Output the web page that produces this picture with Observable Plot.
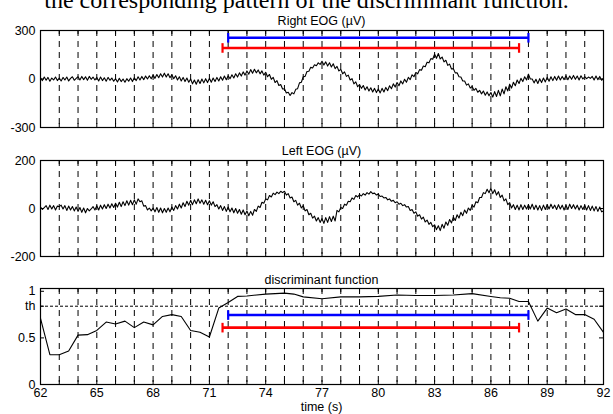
<!DOCTYPE html>
<html><head><meta charset="utf-8">
<script src="https://cdn.jsdelivr.net/npm/d3@7"></script>
<script src="https://cdn.jsdelivr.net/npm/@observablehq/plot@0.6"></script>
<style>
body{margin:0;background:#fff;}
#wrap{position:relative;width:613px;height:414px;overflow:hidden;font-family:"Liberation Sans",Arial,sans-serif;background:#fff;}
.ttl{position:absolute;left:40px;width:563px;text-align:center;font-size:12.5px;line-height:14px;white-space:nowrap;}
.head{position:absolute;left:0;width:613px;top:-12px;text-align:center;font-family:"Liberation Serif","Times New Roman",serif;font-size:24px;line-height:24px;white-space:nowrap;}
.svgbox{position:absolute;left:0;}
</style></head><body><div id="wrap"></div>
<script>
// ---------- data ----------
const t0 = 62, dt = 0.1;               // sampling of the EOG traces (s)
const rightEOG = [
 8,-10,12,-8,10,-14,6,-6,12,-10,
 6,-12,10,-6,12,-12,4,14,-8,4,
 14,-6,16,-4,14,-8,16,-2,12,-6,
 10,-12,12,-10,8,-14,10,-8,6,-14,
 2,-18,4,-16,0,-20,2,-14,6,-16,
 8,-10,14,-6,16,-4,18,0,20,2,
 24,4,28,8,32,12,36,12,32,8,
 26,2,20,-6,14,-12,10,-16,6,-20,
 0,-30,-6,-32,-4,-28,0,-24,2,-22,
 4,-20,6,-16,10,-12,14,-8,18,-4,
 20,2,26,6,32,12,38,18,44,24,
 50,30,58,36,60,38,56,32,50,24,
 42,14,28,-2,10,-22,-10,-40,-34,-62,
 -60,-86,-82,-102,-84,-92,-64,-60,-24,-20,
 14,16,46,48,72,68,88,82,100,90,
 110,86,106,80,100,74,94,64,78,50,
 60,32,44,16,24,-6,2,-30,-18,-48,
 -34,-58,-40,-68,-48,-74,-54,-80,-58,-84,
 -62,-86,-58,-80,-52,-72,-42,-60,-30,-50,
 -22,-42,-12,-30,-2,-20,10,-4,26,14,
 40,32,58,54,80,76,104,100,126,122,
 154,128,158,124,136,106,116,84,92,62,
 64,38,38,14,12,-12,-12,-38,-30,-56,
 -46,-70,-58,-82,-70,-92,-74,-100,-80,-104,
 -84,-112,-78,-108,-70,-104,-62,-92,-48,-74,
 -32,-56,-20,-42,-6,-28,4,-16,14,-6,
 30,0,0,-24,-2,-28,2,-22,6,-18,
 10,-14,14,-10,16,-8,18,-6,16,-4,
 20,-4,18,-2,22,-2,18,-6,20,0,
 14,2,12,4,16,-6,18,-4,16,-8,
 6];
const leftEOG = [
 6,-4,4,12,-4,14,-2,12,-6,10,
 8,14,-2,12,-8,10,-6,8,-10,6,
 -12,4,-16,2,-18,0,-10,-2,8,-6,
 12,-6,14,-2,16,0,18,2,20,4,
 22,6,26,8,28,12,32,14,34,16,
 36,18,40,28,32,10,12,-6,2,-10,
 2,-14,4,-16,2,-18,0,-16,2,-14,
 6,-8,12,-2,18,2,24,8,30,14,
 34,16,36,20,40,22,36,18,34,16,
 32,14,28,8,16,-2,12,-8,8,-12,
 6,-14,2,-18,0,-20,-4,-24,-6,-26,
 -10,-30,-12,-28,-4,-12,10,4,26,22,
 40,36,54,48,64,58,68,62,72,66,
 72,56,62,44,48,28,34,14,22,2,
 12,-10,-4,-26,-20,-40,-32,-52,-38,-58,
 -42,-62,-38,-58,-34,-54,-32,-52,-8,-14,
 4,0,18,14,30,28,44,38,54,48,
 58,52,62,56,66,60,70,62,64,56,
 60,50,52,44,46,36,40,30,34,24,
 28,18,22,12,16,6,8,-8,-4,-20,
 -14,-32,-26,-44,-36,-56,-48,-66,-58,-76,
 -68,-88,-72,-92,-66,-82,-56,-70,-46,-60,
 -36,-50,-26,-40,-16,-30,-6,-20,2,-8,
 14,6,28,24,46,46,66,62,80,66,
 84,62,78,56,70,46,56,32,40,16,
 24,2,16,-4,14,-6,16,-4,14,-2,
 16,-2,18,-4,14,-6,12,-8,14,-4,
 16,-2,18,0,14,-4,16,-2,14,-6,
 14,-4,18,0,16,-2,14,-6,12,-4,
 14,-6,12,-8,10,-10,8,-12,6,-14,
 -10];
const discT = [62,62.5,63,63.5,64,64.5,65,65.5,66,66.5,67,67.5,68,68.5,69,69.5,70,70.5,71,71.5,72,72.5,73,74,75,75.5,76,77,78,79,80,81,82,83,84,85,86,86.5,87,87.5,88,88.5,89,89.5,90,90.5,91,91.5,92];
const discV = [0.71,0.32,0.32,0.36,0.53,0.535,0.58,0.67,0.65,0.68,0.61,0.67,0.64,0.73,0.75,0.73,0.58,0.56,0.51,0.82,0.88,0.945,0.95,0.97,0.98,0.97,0.94,0.92,0.94,0.94,0.945,0.96,0.955,0.955,0.96,0.975,0.945,0.93,0.925,0.89,0.89,0.68,0.82,0.77,0.81,0.75,0.75,0.70,0.56];
const thValue = 0.84;
const barsRight = [{x1:72.0,x2:88.0,y:255,c:"#0000ff"},{x1:71.7,x2:87.5,y:192,c:"#ff0000"}];
const barsDisc  = [{x1:72.0,x2:88.0,y:0.745,c:"#0000ff"},{x1:71.7,x2:87.5,y:0.61,c:"#ff0000"}];
const gridSeconds = d3.range(63, 92);     // dashed grid every second
const tickSeconds = d3.range(62, 93);
const xTickLabels = [62,65,68,71,74,77,80,83,86,89,92];
const headText = "the corresponding pattern of the discriminant function.";
const titles = ["Right EOG (\u00b5V)", "Left EOG (\u00b5V)", "discriminant function"];

// ---------- drawing ----------
const wrap = document.getElementById("wrap");
const W = 613, ML = 40, MR = 10, frameW = W - ML - MR;
const vbar = {draw(ctx, size){ const h = Math.sqrt(size/Math.PI); ctx.moveTo(0,-h); ctx.lineTo(0,h); }};
const font = {fontFamily:'"Liberation Sans",Arial,sans-serif', fontSize:"12.5px", background:"transparent", overflow:"visible"};

function panel({top, mt, fh, mb, ydomain, yticks, ylabel, data, bars, th, xaxis}) {
  const marks = [
    Plot.ruleX(gridSeconds, {stroke:"black", strokeWidth:1, strokeDasharray:"6,5"}),
    Plot.ruleX(tickSeconds, {stroke:"black", strokeWidth:1, insetBottom: fh-4}),
    Plot.ruleX(tickSeconds, {stroke:"black", strokeWidth:1, insetTop: fh-4}),
    Plot.ruleY(yticks, {stroke:"black", strokeWidth:1, insetRight: frameW-4}),
    Plot.ruleY(yticks, {stroke:"black", strokeWidth:1, insetLeft: frameW-4}),
  ];
  if (th !== undefined) marks.push(Plot.ruleY([th], {stroke:"black", strokeWidth:1, strokeDasharray:"3,2"}));
  marks.push(Plot.line(data, {x:"t", y:"v", stroke:"black", strokeWidth:1.1}));
  if (bars) {
    const caps = bars.flatMap(b => [{x:b.x1,y:b.y,c:b.c},{x:b.x2,y:b.y,c:b.c}]);
    marks.push(Plot.ruleY(bars, {x1:"x1", x2:"x2", y:"y", stroke:"c", strokeWidth:2.6}));
    marks.push(Plot.dot(caps, {x:"x", y:"y", r:4.8, symbol:vbar, stroke:"c", strokeWidth:2.2, fill:"none"}));
  }
  marks.push(Plot.frame({stroke:"black", strokeWidth:1.2}));
  marks.push(Plot.axisY({ticks:yticks, tickSize:0, tickPadding:5, tickFormat:(d)=>ylabel(d), label:null, fontSize:12.5}));
  if (xaxis) marks.push(Plot.axisX({ticks:xTickLabels, tickSize:0, tickPadding:4, label:null, fontSize:12.5}));
  else marks.push(Plot.axisX({ticks:[], label:null}));
  const svg = Plot.plot({
    width: W, height: mt+fh+mb, marginLeft: ML, marginRight: MR, marginTop: mt, marginBottom: mb,
    x: {domain:[62,92]}, y: {domain: ydomain},
    style: font, marks
  });
  const box = document.createElement("div");
  box.className = "svgbox"; box.style.top = top+"px";
  box.appendChild(svg);
  wrap.appendChild(box);
}

const rightData = rightEOG.map((v,i)=>({t:t0+i*dt, v}));
const leftData = leftEOG.map((v,i)=>({t:t0+i*dt, v}));
const discData = discT.map((t,i)=>({t, v:discV[i]}));

panel({top:10, mt:20, fh:97, mb:5, ydomain:[-300,300], yticks:[-300,0,300], ylabel:d=>String(d), data:rightData, bars:barsRight});
panel({top:140, mt:20, fh:96, mb:4, ydomain:[-200,200], yticks:[-200,0,200], ylabel:d=>String(d), data:leftData});
panel({top:268, mt:20, fh:96, mb:30, ydomain:[0,1.03], yticks:[0,0.5,thValue,1], ylabel:d=>d===thValue?"th":String(d), data:discData, bars:barsDisc, th:thValue, xaxis:true});

function addText(cls, txt, topPx, extra) {
  const d = document.createElement("div"); d.className = cls; d.textContent = txt; d.style.top = topPx+"px";
  if (extra) Object.assign(d.style, extra);
  wrap.appendChild(d);
}
addText("head", headText, -12);
addText("ttl", titles[0], 14);
addText("ttl", titles[1], 144);
addText("ttl", titles[2], 273);
addText("ttl", "time (s)", 400);
</script></body></html>
